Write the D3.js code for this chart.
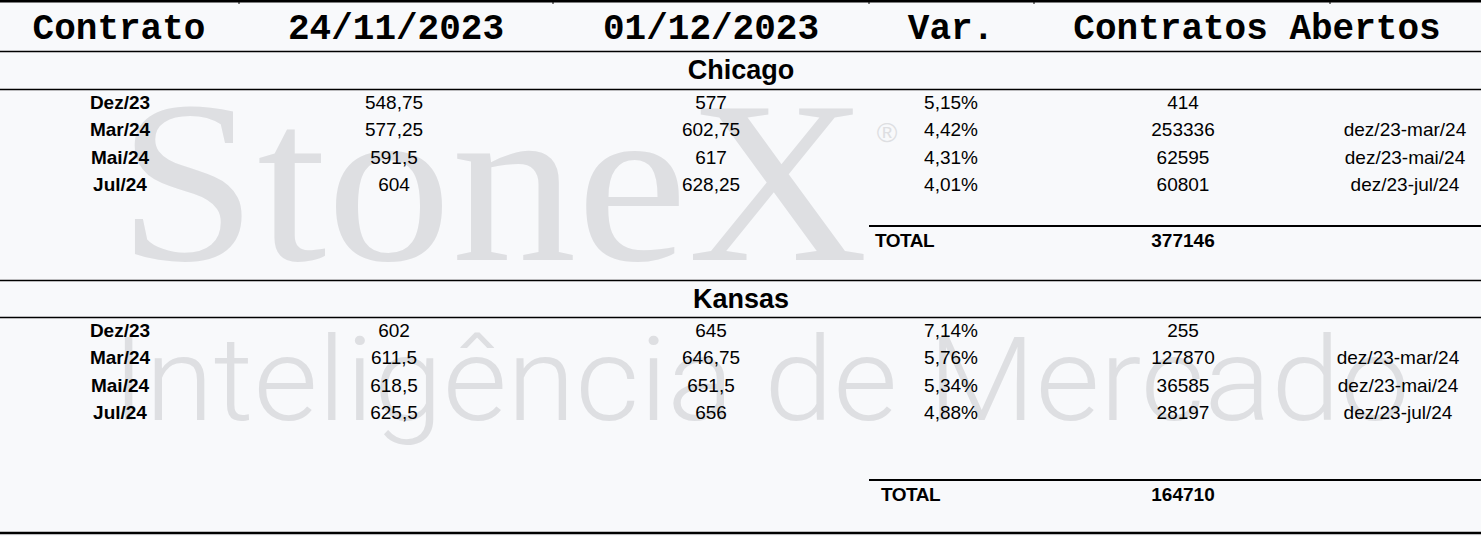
<!DOCTYPE html>
<html>
<head>
<meta charset="utf-8">
<script src="https://cdn.jsdelivr.net/npm/d3@7"></script>
<style>
  body { margin: 0; background: #f8f9fb; }
  svg { display: block; }
</style>
</head>
<body>
<div id="chart"></div>
<script>
// table data
var headers = ['Contrato', '24/11/2023', '01/12/2023', 'Var.', 'Contratos Abertos'];
var contracts = ['Dez/23', 'Mar/24', 'Mai/24', 'Jul/24'];
var spreads = ['', 'dez/23-mar/24', 'dez/23-mai/24', 'dez/23-jul/24'];

var chicagoPrev = [548.75, 577.25, 591.5, 604];
var chicagoCurr = [577, 602.75, 617, 628.25];
var chicagoVar = [5.15, 4.42, 4.31, 4.01];
var chicagoOI = [414, 253336, 62595, 60801];
var chicagoTotal = 377146;

var kansasPrev = [602, 611.5, 618.5, 625.5];
var kansasCurr = [645, 646.75, 651.5, 656];
var kansasVar = [7.14, 5.76, 5.34, 4.88];
var kansasOI = [255, 127870, 36585, 28197];
var kansasTotal = 164710;

var width = 1481, height = 536;
var sans = '"Liberation Sans", Arial, sans-serif';
var mono = '"Liberation Mono", "Courier New", monospace';

// br number formatting: 548.75 -> "548,75"
function br(v){ return String(v).replace('.', ','); }
function pct(v){ return d3.format('.2f')(v).replace('.', ',') + '%'; }

var sections = [
  { name: 'Chicago', prev: chicagoPrev, curr: chicagoCurr, vr: chicagoVar, oi: chicagoOI, total: chicagoTotal,
    top: 51, titleBottom: 89, firstRow: 102, totalLine: 226, totalX: 875, spreadX: 1405, bottom: 280 },
  { name: 'Kansas', prev: kansasPrev, curr: kansasCurr, vr: kansasVar, oi: kansasOI, total: kansasTotal,
    top: 280, titleBottom: 317, firstRow: 330, totalLine: 480, totalX: 881, spreadX: 1398, bottom: 533 }
];

// column centres
var colKeys = ['contract', 'prev', 'curr', 'var', 'oi', 'spread'];
var x = d3.scaleOrdinal().domain(colKeys).range([120, 394, 711, 951, 1183, 1405]);
var headerX = d3.scaleOrdinal().domain(headers).range([119, 396, 711, 951, 1257]);
var boundaries = [239, 553, 869, 1034, 1330];

var svg = d3.select('#chart').append('svg')
  .attr('width', width)
  .attr('height', height);

svg.append('rect')
  .attr('width', width).attr('height', height)
  .attr('fill', '#f8f9fb');

// watermark
var wm = svg.append('g').classed('watermark', true).attr('fill', '#dedfe2');
wm.append('text')
  .attr('x', 118).attr('y', 260)
  .attr('textLength', 750).attr('lengthAdjust', 'spacingAndGlyphs')
  .style('font-family', '"Liberation Serif", "Times New Roman", serif')
  .style('font-size', '230px')
  .text('StoneX');
wm.append('text')
  .attr('x', 887).attr('y', 142)
  .attr('text-anchor', 'middle')
  .style('font-family', sans)
  .style('font-size', '28px')
  .text('®');
wm.append('text')
  .attr('x', 112).attr('y', 420)
  .attr('textLength', 1298).attr('lengthAdjust', 'spacingAndGlyphs')
  .style('font-family', 'Roboto, "Liberation Sans", sans-serif')
  .style('font-weight', 300)
  .style('font-size', '116px')
  .text('Inteligência de Mercado');

// top border with column ticks
svg.append('rect').attr('x', 0).attr('y', 0).attr('width', width).attr('height', 2.5).attr('fill', '#000');
svg.selectAll('.col-tick')
  .data(boundaries)
  .enter()
  .append('line')
  .classed('col-tick', true)
  .attr('x1', d => d).attr('x2', d => d)
  .attr('y1', 0).attr('y2', 4)
  .attr('stroke', '#000').attr('stroke-width', 1);

// header
svg.selectAll('.header-text')
  .data(headers)
  .enter()
  .append('text')
  .classed('header-text', true)
  .attr('x', d => headerX(d))
  .attr('y', 39)
  .attr('text-anchor', 'middle')
  .style('font-family', mono)
  .style('font-weight', 700)
  .style('font-size', '36px')
  .text(d => d);

function hline(y, x0, w, sw){
  svg.append('line')
    .attr('x1', x0).attr('x2', x0 + w)
    .attr('y1', y).attr('y2', y)
    .attr('stroke', '#000')
    .attr('stroke-width', sw);
}

var rowStep = 27.4;

sections.forEach(function(sec){
  var g = svg.append('g').classed('section-' + sec.name, true);
  var y = d3.scaleLinear().domain([0, 1]).range([sec.firstRow, sec.firstRow + rowStep]);

  hline(sec.top + 0.5, 0, width, 1.3);
  hline(sec.titleBottom + 0.5, 0, width, 1.3);

  g.append('text')
    .attr('x', 741)
    .attr('y', (sec.top + sec.titleBottom) / 2 + 9)
    .attr('text-anchor', 'middle')
    .style('font-family', sans)
    .style('font-weight', 700)
    .style('font-size', '27px')
    .text(sec.name);

  var rows = contracts.map(function(c, i){
    return { contract: c, prev: br(sec.prev[i]), curr: br(sec.curr[i]),
             var: pct(sec.vr[i]), oi: String(sec.oi[i]), spread: spreads[i] };
  });

  colKeys.forEach(function(k){
    g.selectAll('.cell-' + k)
      .data(rows)
      .enter()
      .append('text')
      .classed('cell-' + k, true)
      .attr('x', k === 'spread' ? sec.spreadX : x(k))
      .attr('y', (d, i) => y(i))
      .attr('dy', '0.36em')
      .attr('text-anchor', 'middle')
      .style('font-family', sans)
      .style('font-weight', k === 'contract' ? 700 : 400)
      .style('font-size', '19px')
      .text(d => d[k]);
  });

  // total
  hline(sec.totalLine, 869, width - 869, 2);
  g.append('text')
    .attr('x', sec.totalX)
    .attr('y', sec.totalLine + 14)
    .attr('dy', '0.36em')
    .style('font-family', sans)
    .style('font-weight', 700)
    .style('font-size', '19px')
    .style('letter-spacing', '-0.5px')
    .text('TOTAL');
  g.append('text')
    .attr('x', x('oi'))
    .attr('y', sec.totalLine + 14)
    .attr('dy', '0.36em')
    .attr('text-anchor', 'middle')
    .style('font-family', sans)
    .style('font-weight', 700)
    .style('font-size', '19px')
    .text(sec.total);
});

hline(533, 0, width, 2.5);
</script>
</body>
</html>
